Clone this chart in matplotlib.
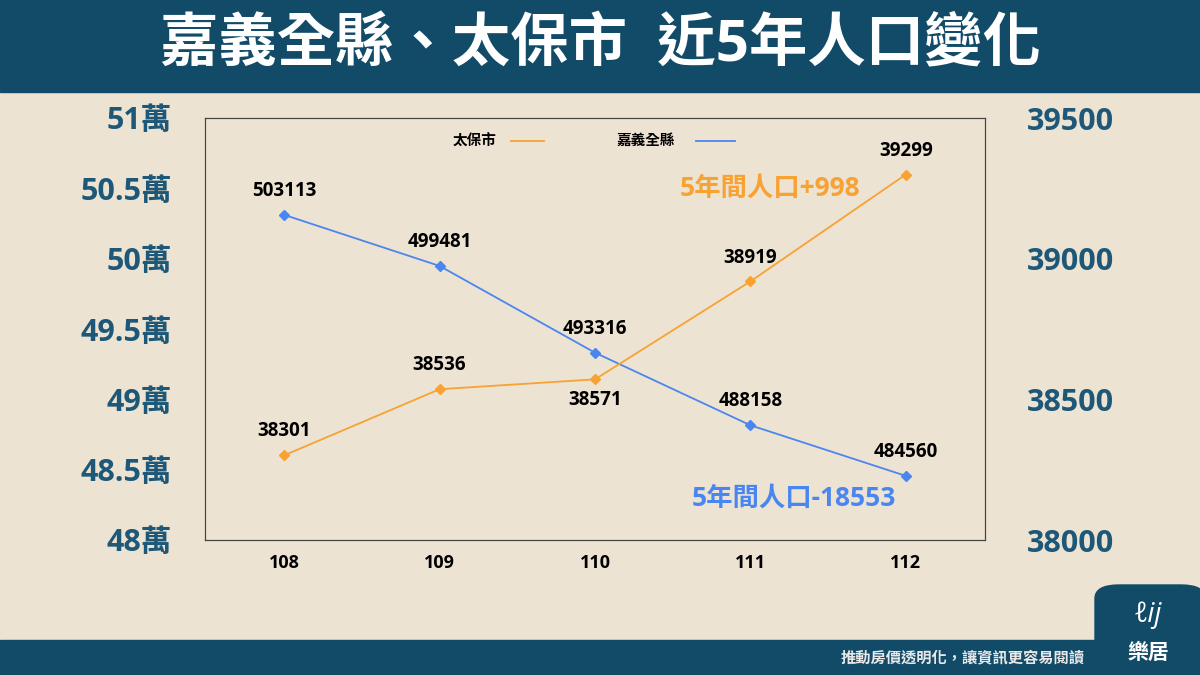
import matplotlib
matplotlib.use("Agg")
import matplotlib.pyplot as plt
from matplotlib.lines import Line2D
from matplotlib.patches import Rectangle, FancyBboxPatch

plt.rcParams['font.family'] = ['Open Sans', 'Noto Sans CJK TC', 'DejaVu Sans']

years = ["108", "109", "110", "111", "112"]
chiayi = [503113, 499481, 493316, 488158, 484560]
taibao = [38301, 38536, 38571, 38919, 39299]
left_ticks = [480000, 485000, 490000, 495000, 500000, 505000, 510000]
left_labels = ["48萬", "48.5萬", "49萬", "49.5萬", "50萬", "50.5萬", "51萬"]
right_ticks = [38000, 38500, 39000, 39500]

BG = "#ede3d3"
DARK = "#114b68"
TICK = "#1d5878"
ORANGE = "#f7a233"
BLUE = "#4a86f0"

fig = plt.figure(figsize=(12, 6.75), dpi=100, facecolor=BG)
fig.patches.append(Rectangle((0, 1 - 92/675), 1, 92/675, transform=fig.transFigure, color=DARK, zorder=0))
fig.patches.append(Rectangle((0, 0), 1, 35/675, transform=fig.transFigure, color=DARK, zorder=0))
fig.patches.append(FancyBboxPatch((1095/1200, 0), 110/1200, 90/675, boxstyle="round,pad=0,rounding_size=0.02",
                                  transform=fig.transFigure, color=DARK, zorder=0))
fig.text(0.5, 1 - 46/675, "嘉義全縣、太保市  近5年人口變化", ha="center", va="center",
         color="white", fontsize=42, fontweight="bold")
fig.text(1085/1200, 17/675, "推動房價透明化，讓資訊更容易閱讀", ha="right", va="center",
         color="#e8e8e8", fontsize=11, fontweight="bold")
fig.text(1148/1200, 22/675, "樂居", ha="center", va="center", color="white", fontsize=15, fontweight="bold")
fig.text(1148/1200, 60/675, "ℓij", ha="center", va="center", color="white", fontsize=20, fontstyle="italic")

ax = fig.add_axes([205/1200, 135/675, 780/1200, 422/675])
ax.set_facecolor(BG)
x = list(range(len(years)))
ax.plot(x, chiayi, color=BLUE, marker="D", markersize=5, linewidth=1.3)
ax.set_xlim(-0.51, 4.51)
ax.set_ylim(480000, 510000)
ax.set_yticks(left_ticks)
ax.set_yticklabels(left_labels)
ax.set_xticks(x)
ax.set_xticklabels(years)
ax.tick_params(axis="y", length=0, pad=24, labelsize=22, labelcolor=TICK)
ax.tick_params(axis="x", length=0, pad=10, labelsize=13)
for t in ax.get_yticklabels() + ax.get_xticklabels():
    t.set_fontweight("bold")

ax2 = ax.twinx()
ax2.plot(x, taibao, color=ORANGE, marker="D", markersize=5, linewidth=1.3)
ax2.set_ylim(38000, 39500)
ax2.set_yticks(right_ticks)
ax2.tick_params(axis="y", length=0, pad=30, labelsize=22, labelcolor=TICK)
for t in ax2.get_yticklabels():
    t.set_fontweight("bold")
for a in (ax, ax2):
    for s in a.spines.values():
        s.set_color("#444444")
        s.set_linewidth(0.8)

for i, v in enumerate(chiayi):
    ax.annotate(str(v), (i, v), xytext=(0, 10), textcoords="offset points", ha="center",
                va="bottom", fontsize=13.5, fontweight="bold")
for i, v in enumerate(taibao):
    off = -8 if i == 2 else 10
    ax2.annotate(str(v), (i, v), xytext=(0, off), textcoords="offset points", ha="center",
                 va="top" if off < 0 else "bottom", fontsize=13.5, fontweight="bold")

ax.text(0.724, 0.834, "5年間人口+998", transform=ax.transAxes, ha="center", va="center",
        color=ORANGE, fontsize=19, fontweight="bold")
ax.text(0.755, 0.1, "5年間人口-18553", transform=ax.transAxes, ha="center", va="center",
        color=BLUE, fontsize=19, fontweight="bold")

ax.text(0.345, 0.945, "太保市", transform=ax.transAxes, ha="center", va="center", fontsize=10.5, fontweight="bold")
ax.add_line(Line2D([0.392, 0.435], [0.945, 0.945], transform=ax.transAxes, color=ORANGE, lw=1.3))
ax.text(0.565, 0.945, "嘉義全縣", transform=ax.transAxes, ha="center", va="center", fontsize=10.5, fontweight="bold")
ax.add_line(Line2D([0.63, 0.68], [0.945, 0.945], transform=ax.transAxes, color=BLUE, lw=1.3))

fig.savefig("out.png", dpi=100, facecolor=BG)
